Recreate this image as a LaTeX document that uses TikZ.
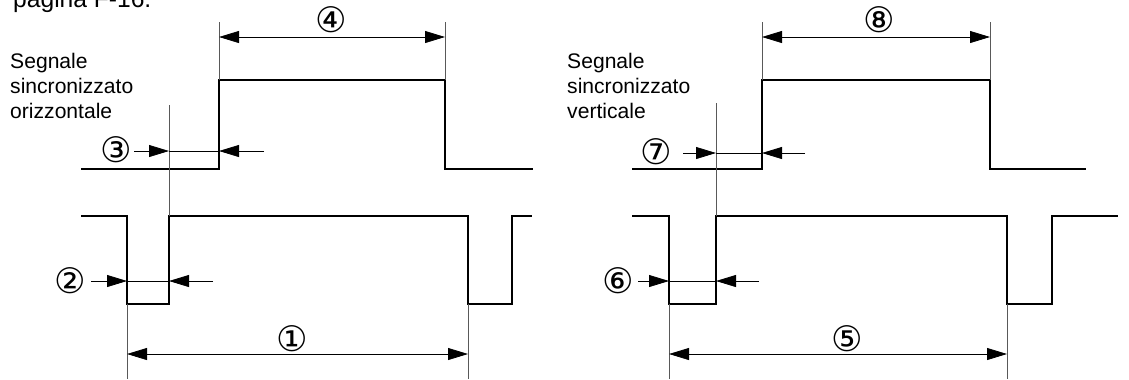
\documentclass[tikz,border=0pt]{standalone}
\usepackage{fontspec}
\setmainfont{Liberation Sans}
\newfontfamily\circfont{DejaVu Sans}
\usetikzlibrary{arrows.meta}

\begin{document}
\begin{tikzpicture}[
  x=0.03cm, y=-0.03cm,
  sig/.style={line width=2.4pt, line join=miter},
  ext/.style={line width=0.6pt, black!65},
  dim/.style={line width=0.7pt},
  arrow/.style={-{Triangle[length=0.6cm, width=0.36cm]}, line width=0.7pt},
  twoway/.style={{Triangle[length=0.6cm, width=0.36cm]}-{Triangle[length=0.6cm, width=0.36cm]}, line width=0.7pt},
  num/.style={font=\circfont\fontsize{30}{30}\selectfont, inner sep=0pt},
  caption/.style={font=\fontsize{18}{21.3}\selectfont, align=left, anchor=north west, inner sep=0pt}
]
\useasboundingbox (0,0) rectangle (1129,379);

\node[font=\fontsize{21}{24}\selectfont, anchor=base west, inner sep=0pt] (page) at (13,7) {pagina F-16.};

% orizzontale
\node[caption] (capH) at (10,53) {Segnale\\sincronizzato\\orizzontale};
\draw[sig] (81,169) -- (219,169) -- (219,80) -- (445,80) -- (445,169) -- (533,169);
\draw[sig] (81,216) -- (127,216) -- (127,304) -- (169,304) -- (169,216) -- (468,216) -- (468,304) -- (512,304) -- (512,216) -- (532,216);
\draw[ext] (219,22) -- (219,80);
\draw[ext] (445,22) -- (445,80);
\draw[ext] (169,105) -- (169,216);
\draw[ext] (127,304) -- (127,379);
\draw[ext] (468,304) -- (468,379);

\coordinate (h4a) at (219,37);
\coordinate (h4b) at (445,37);
\draw[twoway] (h4a) -- (h4b);
\node[num] (n4) at (331,20) {④};

\coordinate (h3s) at (134,151);
\coordinate (h3a) at (169,151);
\coordinate (h3b) at (219,151);
\coordinate (h3e) at (264,151);
\draw[arrow] (h3s) -- (h3a);
\draw[dim] (h3a) -- (h3b);
\draw[arrow] (h3e) -- (h3b);
\node[num] (n3) at (116,150) {③};

\coordinate (h2s) at (91,281);
\coordinate (h2a) at (127,281);
\coordinate (h2b) at (169,281);
\coordinate (h2e) at (213,281);
\draw[arrow] (h2s) -- (h2a);
\draw[dim] (h2a) -- (h2b);
\draw[arrow] (h2e) -- (h2b);
\node[num] (n2) at (70,281) {②};

\coordinate (h1a) at (127,354);
\coordinate (h1b) at (468,354);
\draw[twoway] (h1a) -- (h1b);
\node[num] (n1) at (292,339) {①};

% verticale
\node[caption] (capV) at (567,53) {Segnale\\sincronizzato\\verticale};
\draw[sig] (632,169) -- (762,169) -- (762,80) -- (990,80) -- (990,169) -- (1086,169);
\draw[sig] (632,216) -- (669,216) -- (669,304) -- (716,304) -- (716,216) -- (1007,216) -- (1007,304) -- (1052,304) -- (1052,216) -- (1118,216);
\draw[ext] (762,22) -- (762,80);
\draw[ext] (990,22) -- (990,80);
\draw[ext] (716,103) -- (716,216);
\draw[ext] (669,304) -- (669,379);
\draw[ext] (1007,304) -- (1007,379);

\coordinate (v8a) at (762,37);
\coordinate (v8b) at (990,37);
\draw[twoway] (v8a) -- (v8b);
\node[num] (n8) at (879,20) {⑧};

\coordinate (v7s) at (683,153);
\coordinate (v7a) at (716,153);
\coordinate (v7b) at (762,153);
\coordinate (v7e) at (805,153);
\draw[arrow] (v7s) -- (v7a);
\draw[dim] (v7a) -- (v7b);
\draw[arrow] (v7e) -- (v7b);
\node[num] (n7) at (656,152) {⑦};

\coordinate (v6s) at (638,281);
\coordinate (v6a) at (669,281);
\coordinate (v6b) at (716,281);
\coordinate (v6e) at (759,281);
\draw[arrow] (v6s) -- (v6a);
\draw[dim] (v6a) -- (v6b);
\draw[arrow] (v6e) -- (v6b);
\node[num] (n6) at (618,281) {⑥};

\coordinate (v5a) at (669,354);
\coordinate (v5b) at (1007,354);
\draw[twoway] (v5a) -- (v5b);
\node[num] (n5) at (847,339) {⑤};
\end{tikzpicture}
\end{document}
